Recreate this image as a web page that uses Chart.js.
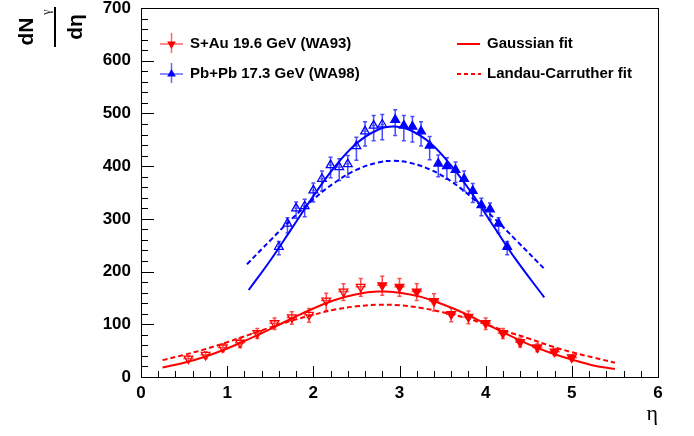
<!DOCTYPE html>
<html><head><meta charset="utf-8">
<script src="https://cdn.jsdelivr.net/npm/chart.js@4.4.1/dist/chart.umd.min.js"></script>
<style>html,body{margin:0;padding:0;background:#fff;}canvas{display:block;}</style>
</head><body>
<canvas id="c" width="694" height="436"></canvas>
<script>
// ---- data ----
const xTickVals = [0, 1, 2, 3, 4, 5, 6];
const yTickVals = [0, 100, 200, 300, 400, 500, 600, 700];

// Pb+Pb 17.3 GeV (WA98) measured (filled) and reflected (open)
const xBlueFilled = [2.95, 3.05, 3.15, 3.25, 3.35, 3.45, 3.55, 3.65, 3.75, 3.85, 3.95, 4.05, 4.15, 4.25];
const yBlueFilled = [488, 477, 475, 466, 439, 405, 400, 393, 376, 353, 326, 318, 291, 247];
const upBlueFilled = [19, 19, 19, 18, 17, 16, 16, 15, 15, 14, 13, 12, 11, 10];
const dnBlueFilled = [30, 29, 29, 28, 27, 25, 25, 24, 23, 22, 20, 19, 18, 15];
const xBlueOpen = [1.60, 1.70, 1.80, 1.90, 2.00, 2.10, 2.20, 2.30, 2.40, 2.50, 2.60, 2.70, 2.80];
const yBlueOpen = [247, 291, 320, 324, 354, 376, 402, 398, 404, 438, 466, 477, 479];
const upBlueOpen = [10, 11, 12, 13, 14, 15, 15, 16, 16, 17, 18, 19, 19];
const dnBlueOpen = [15, 18, 19, 20, 22, 23, 24, 25, 25, 27, 28, 29, 29];

// S+Au 19.6 GeV (WA93) measured (filled) and reflected (open)
const xRedFilled = [2.80, 3.00, 3.20, 3.40, 3.60, 3.80, 4.00, 4.20, 4.40, 4.60, 4.80, 5.00];
const yRedFilled = [174, 171, 162, 144, 119, 114, 102, 83, 66, 56, 48, 37];
const upRedFilled = [17, 16, 15, 14, 12, 11, 10, 9, 8, 7, 6, 5];
const dnRedFilled = [19, 18, 17, 19, 14, 13, 12, 10, 9, 8, 7, 6];
const xRedOpen = [0.55, 0.75, 0.95, 1.15, 1.35, 1.55, 1.75, 1.95, 2.15, 2.35, 2.55];
const yRedOpen = [35, 42, 56, 65, 83, 102, 113, 118, 145, 162, 171];
const upRedOpen = [5, 6, 7, 8, 9, 10, 11, 12, 14, 15, 16];
const dnRedOpen = [6, 7, 8, 9, 10, 12, 13, 14, 19, 17, 18];

// fit curves
const xBlueGaus = [1.25, 1.5, 1.75, 2.0, 2.25, 2.5, 2.75, 2.93, 3.1, 3.35, 3.6, 3.85, 4.1, 4.35, 4.68];
const yBlueGaus = [165, 221, 282, 343, 399, 443, 469, 475, 470, 445, 401, 346, 284, 223, 151];
const xBlueLC = [1.23, 1.5, 1.75, 2.0, 2.25, 2.5, 2.75, 2.93, 3.1, 3.35, 3.6, 3.85, 4.1, 4.35, 4.7];
const yBlueLC = [214, 259, 300, 337, 369, 393, 407, 410, 407, 394, 371, 339, 301, 260, 202];
const xRedFit = [0.25, 0.5, 0.75, 1.0, 1.25, 1.5, 1.75, 2.0, 2.25, 2.5, 2.75, 3.0, 3.25, 3.5, 3.75, 4.0, 4.25, 4.5, 4.75, 5.0, 5.25, 5.5];
const yRedGaus = [18, 27, 39, 54, 72, 91, 111, 130, 146, 157, 162, 160, 152, 138, 121, 101, 81, 62, 46, 33, 22, 15];
const yRedLC = [32, 42, 53, 66, 80, 94, 107, 118, 128, 134, 137, 136, 131, 123, 113, 100, 86, 73, 59, 47, 37, 27];

const BLUE = '#0000ff', RED = '#ff0000';
const FONT = '"Liberation Sans", Arial, sans-serif';
Chart.defaults.font.family = FONT;

const pts = (xs, ys) => xs.map((v, i) => ({x: v, y: ys[i]}));

function marker(color, filled, rot) {
  return {
    type: 'scatter', showLine: false,
    pointStyle: 'triangle', rotation: rot, pointRadius: 5,
    borderColor: color, borderWidth: 1.3,
    backgroundColor: filled ? color : 'rgba(255,255,255,0)',
  };
}
function fitLine(xs, ys, color, dashed) {
  return {
    type: 'line', data: pts(xs, ys), borderColor: color, borderWidth: 2,
    borderDash: dashed ? [5, 3] : [], pointRadius: 0, tension: 0.4, fill: false
  };
}

const datasets = [
  Object.assign(marker(BLUE, true, 0), {label: 'Pb+Pb 17.3 GeV (WA98)', data: pts(xBlueFilled, yBlueFilled), errUp: upBlueFilled, errDn: dnBlueFilled, errX: 0.02, errColor: 'rgba(0,0,255,0.7)'}),
  Object.assign(marker(BLUE, false, 0), {label: 'Pb+Pb reflected', data: pts(xBlueOpen, yBlueOpen), errUp: upBlueOpen, errDn: dnBlueOpen, errX: 0.02, errColor: 'rgba(0,0,255,0.7)'}),
  Object.assign(marker(RED, true, 180), {label: 'S+Au 19.6 GeV (WA93)', data: pts(xRedFilled, yRedFilled), errUp: upRedFilled, errDn: dnRedFilled, errX: 0.06, errColor: 'rgba(255,0,0,0.7)'}),
  Object.assign(marker(RED, false, 180), {label: 'S+Au reflected', data: pts(xRedOpen, yRedOpen), errUp: upRedOpen, errDn: dnRedOpen, errX: 0.06, errColor: 'rgba(255,0,0,0.7)'}),
  Object.assign(fitLine(xBlueGaus, yBlueGaus, BLUE, false), {label: 'Gaussian fit WA98'}),
  Object.assign(fitLine(xBlueLC, yBlueLC, BLUE, true), {label: 'Landau-Carruther fit WA98'}),
  Object.assign(fitLine(xRedFit, yRedGaus, RED, false), {label: 'Gaussian fit'}),
  Object.assign(fitLine(xRedFit, yRedLC, RED, true), {label: 'Landau-Carruther fit'}),
];

function drawTri(ctx, x, y, r, down, color) {
  ctx.beginPath();
  let a = down ? Math.PI : 0;
  for (let k = 0; k < 3; k++) {
    const px = x + Math.sin(a) * r, py = y - Math.cos(a) * r;
    if (k === 0) ctx.moveTo(px, py); else ctx.lineTo(px, py);
    a += 2 * Math.PI / 3;
  }
  ctx.closePath();
  ctx.fillStyle = color; ctx.fill();
}

const errBars = {
  id: 'errBars',
  beforeDatasetsDraw(chart) {
    const {ctx, scales: {x, y}, chartArea: ca} = chart;
    ctx.save();
    ctx.beginPath(); ctx.rect(ca.left, ca.top, ca.right - ca.left, ca.bottom - ca.top); ctx.clip();
    chart.data.datasets.forEach(ds => {
      if (!ds.errUp) return;
      ctx.strokeStyle = ds.errColor; ctx.lineWidth = 1.5;
      ds.data.forEach((p, j) => {
        const px = x.getPixelForValue(p.x), py = y.getPixelForValue(p.y);
        const yt = y.getPixelForValue(p.y + ds.errUp[j]);
        const yb = y.getPixelForValue(p.y - ds.errDn[j]);
        const xl = x.getPixelForValue(p.x - ds.errX), xr = x.getPixelForValue(p.x + ds.errX);
        ctx.beginPath();
        ctx.moveTo(px, yt); ctx.lineTo(px, yb);
        ctx.moveTo(px - 2, yt); ctx.lineTo(px + 2, yt);
        ctx.moveTo(px - 2, yb); ctx.lineTo(px + 2, yb);
        ctx.moveTo(xl, py); ctx.lineTo(xr, py);
        ctx.stroke();
      });
    });
    ctx.restore();
  }
};

const frameTicks = {
  id: 'frameTicks',
  afterDatasetsDraw(chart) {
    const {ctx, scales: {x, y}, chartArea: ca} = chart;
    ctx.save();
    ctx.strokeStyle = '#000'; ctx.lineWidth = 1;
    ctx.strokeRect(Math.round(ca.left) + 0.5, Math.round(ca.top) + 0.5, Math.round(ca.right - ca.left), Math.round(ca.bottom - ca.top));
    ctx.beginPath();
    for (let i = 0; i < xTickVals.length; i++) {
      const v = xTickVals[i];
      const px = Math.round(x.getPixelForValue(v)) + 0.5;
      ctx.moveTo(px, ca.bottom); ctx.lineTo(px, ca.bottom - 11);
      if (i < xTickVals.length - 1) {
        for (let m = 1; m < 5; m++) {
          const mx = Math.round(x.getPixelForValue(v + m * (xTickVals[i + 1] - v) / 5)) + 0.5;
          ctx.moveTo(mx, ca.bottom); ctx.lineTo(mx, ca.bottom - 6);
        }
      }
    }
    for (let i = 0; i < yTickVals.length; i++) {
      const v = yTickVals[i];
      const py = Math.round(y.getPixelForValue(v)) + 0.5;
      ctx.moveTo(ca.left, py); ctx.lineTo(ca.left + 13, py);
      if (i < yTickVals.length - 1) {
        for (let m = 1; m < 5; m++) {
          const my = Math.round(y.getPixelForValue(v + m * (yTickVals[i + 1] - v) / 5)) + 0.5;
          ctx.moveTo(ca.left, my); ctx.lineTo(ca.left + 7, my);
        }
      }
    }
    ctx.stroke();
    ctx.restore();
  }
};

const extras = {
  id: 'extras',
  afterDraw(chart) {
    const ctx = chart.ctx;
    ctx.save();
    ctx.fillStyle = '#000';
    ctx.save(); ctx.translate(33, 31.5); ctx.rotate(-Math.PI / 2);
    ctx.font = 'bold 21px ' + FONT; ctx.textAlign = 'center'; ctx.textBaseline = 'alphabetic';
    ctx.fillText('dN', 0, 0); ctx.restore();
    ctx.save(); ctx.translate(47, 12); ctx.rotate(-Math.PI / 2);
    ctx.font = '12px "Liberation Serif", serif'; ctx.textAlign = 'center'; ctx.textBaseline = 'middle';
    ctx.fillText('γ', 0, 0); ctx.restore();
    ctx.fillRect(54, 7, 2, 40);
    ctx.save(); ctx.translate(82, 27); ctx.rotate(-Math.PI / 2);
    ctx.font = 'bold 21px ' + FONT; ctx.textAlign = 'center'; ctx.textBaseline = 'alphabetic';
    ctx.fillText('dη', 0, 0); ctx.restore();

    ctx.font = 'bold 15px ' + FONT; ctx.textAlign = 'left'; ctx.textBaseline = 'middle';
    const rows = [
      {y: 44, color: RED, down: true, text: 'S+Au 19.6 GeV (WA93)'},
      {y: 74, color: BLUE, down: false, text: 'Pb+Pb 17.3 GeV (WA98)'}
    ];
    rows.forEach(r => {
      ctx.strokeStyle = r.color === RED ? 'rgba(255,0,0,0.6)' : 'rgba(0,0,255,0.6)';
      ctx.lineWidth = 1.5;
      ctx.beginPath();
      ctx.moveTo(160, r.y); ctx.lineTo(183, r.y);
      ctx.moveTo(171.5, r.y - 11); ctx.lineTo(171.5, r.y + 9);
      ctx.stroke();
      drawTri(ctx, 171.5, r.y, 5, r.down, r.color);
      ctx.fillStyle = '#000';
      ctx.fillText(r.text, 190, r.y);
    });
    ctx.strokeStyle = RED; ctx.lineWidth = 2;
    ctx.beginPath(); ctx.moveTo(457, 44); ctx.lineTo(480, 44); ctx.stroke();
    ctx.setLineDash([4, 3]);
    ctx.beginPath(); ctx.moveTo(457, 74); ctx.lineTo(481, 74); ctx.stroke();
    ctx.setLineDash([]);
    ctx.fillStyle = '#000';
    ctx.fillText('Gaussian fit', 487, 44);
    ctx.fillText('Landau-Carruther fit', 487, 74);
    ctx.restore();
  }
};

const tickFont = {family: FONT, weight: 'bold', size: 17, lineHeight: 1.2};

new Chart(document.getElementById('c'), {
  data: {datasets},
  options: {
    responsive: false, animation: false, devicePixelRatio: 1,
    layout: {padding: {top: 8, right: 36, left: 0, bottom: 0}},
    scales: {
      x: {
        type: 'linear', min: 0, max: 6,
        afterBuildTicks: s => { s.ticks = xTickVals.map(v => ({value: v})); },
        afterFit: s => { s.height = 59; s.paddingLeft = 0; s.paddingRight = 0; },
        ticks: {font: tickFont, color: '#000', padding: 6, maxRotation: 0, autoSkip: false},
        grid: {display: false, drawTicks: false},
        border: {display: false},
        title: {display: true, text: 'η', align: 'end', color: '#000',
                font: {family: '"Liberation Serif", serif', size: 22, lineHeight: 1.2},
                padding: {top: 0, bottom: 9}}
      },
      y: {
        type: 'linear', min: 0, max: 700,
        afterBuildTicks: s => { s.ticks = yTickVals.map(v => ({value: v})); },
        afterFit: s => { s.width = 141; s.paddingTop = 0; s.paddingBottom = 0; },
        ticks: {font: tickFont, color: '#000', padding: 10, autoSkip: false},
        grid: {display: false, drawTicks: false},
        border: {display: false}
      }
    },
    plugins: {legend: {display: false}, tooltip: {enabled: false}}
  },
  plugins: [errBars, frameTicks, extras]
});
</script>
</body></html>
